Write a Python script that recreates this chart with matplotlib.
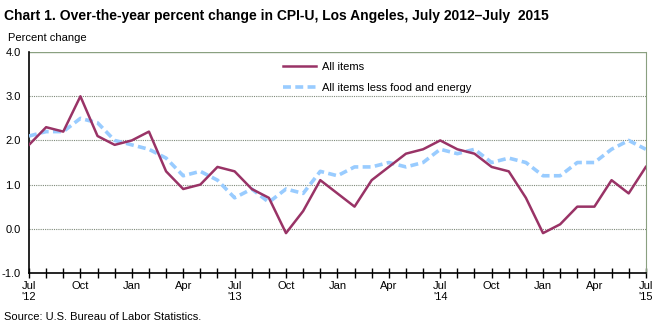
import numpy as np
import matplotlib
matplotlib.use("Agg")
import matplotlib.pyplot as plt
from matplotlib.ticker import MultipleLocator, FixedLocator

plt.rcParams["font.family"] = ["Liberation Sans", "DejaVu Sans"]

# Over-the-year percent change, monthly, July 2012 - July 2015
all_items = [1.9, 2.3, 2.2, 3.0, 2.1, 1.9, 2.0, 2.2, 1.3, 0.9, 1.0, 1.4,
             1.3, 0.9, 0.7, -0.1, 0.4, 1.1, 0.8, 0.5, 1.1, 1.4, 1.7, 1.8,
             2.0, 1.8, 1.7, 1.4, 1.3, 0.7, -0.1, 0.1, 0.5, 0.5, 1.1, 0.8,
             1.4]
core = [2.1, 2.2, 2.2, 2.5, 2.4, 2.0, 1.9, 1.8, 1.6, 1.2, 1.3, 1.1,
        0.7, 0.9, 0.6, 0.9, 0.8, 1.3, 1.2, 1.4, 1.4, 1.5, 1.4, 1.5,
        1.8, 1.7, 1.8, 1.5, 1.6, 1.5, 1.2, 1.2, 1.5, 1.5, 1.8, 2.0,
        1.8]
tick_labels = ["Jul\n'12", "Oct", "Jan", "Apr", "Jul\n'13", "Oct", "Jan", "Apr",
               "Jul\n'14", "Oct", "Jan", "Apr", "Jul\n'15"]

months = np.arange(len(all_items))

fig = plt.figure(figsize=(6.59, 3.26), dpi=100)
ax = fig.add_axes([0.044, 0.163, 0.936, 0.677])

ax.plot(months, core, color="#99ccff", lw=2.6, dashes=(2.2, 1.2),
        label="All items less food and energy", zorder=3)
ax.plot(months, all_items, color="#993366", lw=1.8,
        label="All items", zorder=4)

ax.set_xlim(0, 36)
ax.set_ylim(-1, 4)
ax.yaxis.set_major_locator(MultipleLocator(1))
ax.set_yticklabels([f"{v:.1f}" for v in ax.get_yticks()])
ax.xaxis.set_major_locator(FixedLocator(np.arange(0, 37, 3)))
ax.xaxis.set_minor_locator(FixedLocator(np.arange(0, 37, 1)))
ax.set_xticklabels(tick_labels, ha="center", va="top")
ax.tick_params(axis="x", which="both", direction="inout", length=7, width=1,
               labelsize=8, pad=2)
ax.tick_params(axis="y", length=0, labelsize=8, pad=6)
for lbl in ax.get_xticklabels():
    lbl.set_multialignment("left")

for v in [0, 1, 2, 3]:
    ax.axhline(v, color="#7f8a7a", lw=0.8, ls=(0, (1, 1)), zorder=1)
ax.axhline(4, color="#8aa080", lw=1, zorder=1)

for s in ["left", "bottom"]:
    ax.spines[s].set_color("black")
    ax.spines[s].set_linewidth(1.2)
ax.spines["right"].set_color("#8aa080")
ax.spines["top"].set_visible(False)

handles, labels = ax.get_legend_handles_labels()
ax.legend(handles[::-1], labels[::-1], loc="upper left",
          bbox_to_anchor=(0.395, 1.0), frameon=False, fontsize=8,
          handlelength=3.0, handletextpad=0.5, labelspacing=1.0)

fig.text(0.006, 0.94, "Chart 1. Over-the-year percent change in CPI-U, Los Angeles, July 2012\u2013July  2015",
         fontsize=10, fontweight="bold")
fig.text(0.012, 0.873, "Percent change", fontsize=8)
fig.text(0.006, 0.018, "Source: U.S. Bureau of Labor Statistics.", fontsize=8)

fig.savefig("out.png", dpi=100)
